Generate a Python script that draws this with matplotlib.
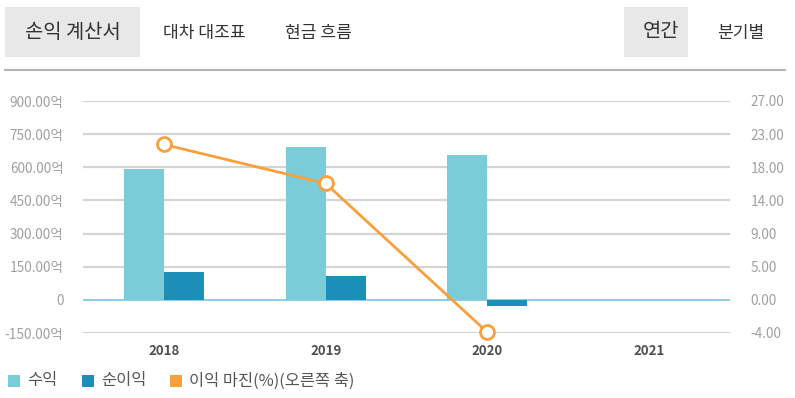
import matplotlib
matplotlib.use("Agg")
import matplotlib.pyplot as plt
from matplotlib.patches import Rectangle
import numpy as np

plt.rcParams['font.family'] = ['Noto Sans CJK KR', 'DejaVu Sans']

years = ["2018", "2019", "2020", "2021"]
revenue = [590, 692, 654, None]        # 억
net_income = [124, 109, -29, None]     # 억
margin = [21.1, 15.8, -4.4, None]      # %

left_ticks = [-150, 0, 150, 300, 450, 600, 750, 900]
left_labels = ["-150.00억", "0", "150.00억", "300.00억", "450.00억", "600.00억", "750.00억", "900.00억"]
right_ticks = [-4.5, 0, 4.5, 9, 13.5, 18, 22.5, 27]
right_labels = ["-4.00", "0.00", "5.00", "9.00", "14.00", "18.00", "23.00", "27.00"]

tabs_left = ["손익 계산서", "대차 대조표", "현금 흐름"]
tabs_right = ["연간", "분기별"]
legend_labels = ["수익", "순이익", "이익 마진(%)(오른쪽 축)"]

c_rev = "#7acdd8"
c_net = "#1b8fb8"
c_mar = "#f8a03c"
c_grid = "#d4d4d4"
c_zero = "#7cc3df"
c_tick = "#a0a0a0"

W, H = 795, 398
fig = plt.figure(figsize=(W / 100, H / 100), dpi=100)


def px(x, y):
    return x / W, 1 - y / H


# header tabs
fig.patches.append(Rectangle(px(5, 57), 135 / W, 50 / H, transform=fig.transFigure,
                             facecolor="#e8e8e8", edgecolor="none"))
fig.patches.append(Rectangle(px(624, 57), 64 / W, 50 / H, transform=fig.transFigure,
                             facecolor="#e8e8e8", edgecolor="none"))
fig.text(*px(73, 32), tabs_left[0], ha="center", va="center", fontsize=14.3, color="#333333")
fig.text(*px(204, 33), tabs_left[1], ha="center", va="center", fontsize=12.3, color="#333333")
fig.text(*px(318, 33), tabs_left[2], ha="center", va="center", fontsize=12.3, color="#333333")
fig.text(*px(661, 32), tabs_right[0], ha="center", va="center", fontsize=14.3, color="#333333")
fig.text(*px(741, 33), tabs_right[1], ha="center", va="center", fontsize=12.3, color="#333333")
fig.lines.append(plt.Line2D([5 / W, 785 / W], [1 - 70 / H, 1 - 70 / H], transform=fig.transFigure,
                            color="#b4b4b4", linewidth=1.5))

# main axes
ax_l, ax_r, ax_t, ax_b = 83, 730, 101, 333
ax = fig.add_axes([ax_l / W, 1 - ax_b / H, (ax_r - ax_l) / W, (ax_b - ax_t) / H])
x = np.arange(len(years))
bw = 0.247
rev_vals = [np.nan if v is None else v for v in revenue]
net_vals = [np.nan if v is None else v for v in net_income]
ax.bar(x - bw / 2, rev_vals, width=bw, color=c_rev, zorder=3, linewidth=0)
ax.bar(x + bw / 2, net_vals, width=bw, color=c_net, zorder=3, linewidth=0)
ax.set_xlim(-0.5, len(years) - 0.5)
ax.set_ylim(-150, 900)
ax.set_yticks(left_ticks)
ax.set_yticklabels(left_labels)
ax.set_xticks(x)
ax.set_xticklabels(years)
for t in left_ticks:
    if t != 0:
        ax.axhline(t, color=c_grid, linewidth=1.6, zorder=1)
ax.axhline(0, color=c_zero, linewidth=1.2, zorder=2)
for s in ax.spines.values():
    s.set_visible(False)
ax.tick_params(axis="y", length=0, pad=14, labelsize=9.8, labelcolor=c_tick)
ax.tick_params(axis="x", length=0, pad=8, labelsize=9.5, labelcolor="#505050")
for lab in ax.get_xticklabels():
    lab.set_fontweight("semibold")

ax2 = ax.twinx()
mx = [i for i, v in enumerate(margin) if v is not None]
my = [v for v in margin if v is not None]
ax2.plot(mx, my, color=c_mar, linewidth=2, marker="o", markersize=10,
         markerfacecolor="white", markeredgecolor=c_mar, markeredgewidth=2, zorder=5, clip_on=False)
ax2.set_ylim(-4.5, 27)
ax2.set_yticks(right_ticks)
ax2.set_yticklabels(right_labels)
for s in ax2.spines.values():
    s.set_visible(False)
ax2.tick_params(axis="y", length=0, pad=15, labelsize=9.8, labelcolor=c_tick)

# legend
leg_sq_x = [8, 82, 170]
for sx, col, lab in zip(leg_sq_x, [c_rev, c_net, c_mar], legend_labels):
    fig.patches.append(Rectangle(px(sx, 387), 12 / W, 12 / H, transform=fig.transFigure,
                                 facecolor=col, edgecolor="none"))
    fig.text(*px(sx + 19, 381), lab, ha="left", va="center", fontsize=11.8, color="#555555")

fig.savefig("out.png", dpi=100)
